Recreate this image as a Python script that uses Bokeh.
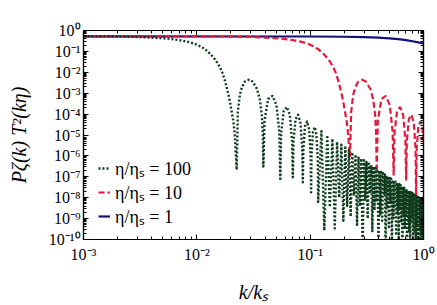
import numpy as np
from bokeh.plotting import figure
from bokeh.models import (LogAxis, FixedTicker, CustomJSTickFormatter, Legend,
                          LegendItem, Range1d)
from bokeh.embed import file_html
from bokeh.resources import INLINE

# ---------------- data (y stored as log10) ----------------
# eta/eta_s = 1
blue_k = [0.001, 0.1, 0.2, 0.3, 0.4, 0.5, 0.6, 0.7, 0.8, 0.9, 1.0]
blue_logy = [-0.28, -0.287, -0.298, -0.315, -0.34, -0.373, -0.411, -0.46, -0.516, -0.57, -0.62]

# eta/eta_s = 10
red_k = [0.001, 0.01, 0.02, 0.03, 0.04, 0.05, 0.06, 0.07, 0.082, 0.095, 0.108, 0.12,
         0.132, 0.142, 0.152, 0.16, 0.168, 0.177, 0.185, 0.191, 0.197, 0.204, 0.21, 0.216,
         0.2247,
         0.230, 0.240, 0.250, 0.265, 0.288, 0.310, 0.340, 0.360, 0.375, 0.3825,
         0.3863,
         0.3957, 0.4255, 0.4648, 0.5041, 0.5339,
         0.5452,
         0.5546, 0.5845, 0.6238, 0.6630, 0.6929,
         0.7033,
         0.7127, 0.7426, 0.7819, 0.8211, 0.8510,
         0.8610,
         0.8705, 0.9003, 0.9396, 0.9789, 1.0]
red_logy = [-0.28, -0.28, -0.29, -0.31, -0.34, -0.37, -0.41, -0.46, -0.53, -0.63, -0.76, -0.93,
            -1.13, -1.33, -1.55, -1.76, -2.02, -2.40, -2.80, -3.12, -3.48, -3.95, -4.35, -4.95,
            -6.05,
            -3.89, -3.06, -2.72, -2.45, -2.36, -2.44, -2.80, -3.31, -4.08, -5.08,
            -6.78,
            -4.31, -3.28, -3.13, -3.57, -4.83,
            -6.94,
            -4.91, -3.85, -3.66, -4.07, -5.30,
            -7.18,
            -5.32, -4.24, -4.03, -4.42, -5.63,
            -8.13,
            -5.67, -4.58, -4.35, -4.72, -5.36]

# eta/eta_s = 100 : first lobes
green_head_k = [0.001, 0.002, 0.003, 0.004, 0.005, 0.006, 0.007, 0.0082, 0.0095, 0.0108,
                0.012, 0.0132, 0.0142, 0.0152, 0.016, 0.0168, 0.0177, 0.0185, 0.0191,
                0.0197, 0.0204, 0.021, 0.0216,
                0.02247,
                0.0230, 0.0240, 0.0250, 0.0265, 0.0288, 0.0310, 0.0340, 0.0360, 0.0375, 0.03825,
                0.03863,
                0.03957, 0.04255, 0.04648, 0.05041, 0.05339,
                0.05452,
                0.05546, 0.05845, 0.06238, 0.06630, 0.06929,
                0.07033,
                0.07127, 0.07426, 0.07819, 0.08211, 0.08510,
                0.08610,
                0.08705, 0.09003, 0.09396, 0.09789, 0.10087,
                0.10186,
                0.1028, 0.1058, 0.1097, 0.1136, 0.1167,
                0.11760]
green_head_logy = [-0.28, -0.29, -0.31, -0.34, -0.37, -0.41, -0.46, -0.53, -0.63, -0.76,
                   -0.93, -1.13, -1.33, -1.55, -1.76, -2.02, -2.40, -2.80, -3.12,
                   -3.48, -3.95, -4.35, -4.95,
                   -6.67,
                   -3.89, -3.06, -2.72, -2.45, -2.36, -2.44, -2.80, -3.31, -4.08, -5.08,
                   -6.51,
                   -4.31, -3.28, -3.13, -3.57, -4.83,
                   -7.10,
                   -4.91, -3.85, -3.66, -4.07, -5.30,
                   -7.02,
                   -5.32, -4.24, -4.03, -4.42, -5.63,
                   -7.26,
                   -5.67, -4.58, -4.35, -4.72, -5.93,
                   -7.74,
                   -5.97, -4.86, -4.62, -4.98, -6.18,
                   -8.20]
# eta/eta_s = 100 : dense oscillations (lobe tops and dips)
green_peak_k = [0.1257, 0.1414, 0.1571, 0.1728, 0.1885, 0.2042, 0.2199, 0.2356,
                0.2513, 0.2670, 0.2827, 0.2985, 0.3142, 0.3299, 0.3456, 0.3613,
                0.3770, 0.3927, 0.4084, 0.4241, 0.4398, 0.4555, 0.4712, 0.4869,
                0.5027, 0.5184, 0.5341, 0.5498, 0.5655, 0.5812, 0.5969, 0.6126,
                0.6283, 0.6440, 0.6597, 0.6754, 0.6912, 0.7069, 0.7226, 0.7383,
                0.7540, 0.7697, 0.7854, 0.8011, 0.8168, 0.8325, 0.8482, 0.8639,
                0.8796, 0.8954, 0.9111, 0.9268, 0.9425, 0.9582, 0.9739, 0.9896]
green_peak_logy = [-4.82, -5.01, -5.18, -5.33, -5.47, -5.60, -5.72, -5.83,
                   -5.93, -6.03, -6.12, -6.21, -6.29, -6.37, -6.44, -6.51,
                   -6.58, -6.65, -6.71, -6.77, -6.83, -6.89, -6.94, -6.99,
                   -7.05, -7.09, -7.14, -7.19, -7.23, -7.28, -7.32, -7.36,
                   -7.40, -7.44, -7.48, -7.52, -7.56, -7.59, -7.63, -7.66,
                   -7.70, -7.73, -7.76, -7.79, -7.83, -7.86, -7.89, -7.92,
                   -7.94, -7.97, -8.00, -8.03, -8.06, -8.08, -8.11, -8.13]
green_dip_k = [0.1333, 0.1491, 0.1648, 0.1805, 0.1962, 0.2119, 0.2277, 0.2434,
               0.2591, 0.2748, 0.2905, 0.3062, 0.3219, 0.3377, 0.3534, 0.3691,
               0.3848, 0.4006, 0.4163, 0.4320, 0.4477, 0.4634, 0.4791, 0.4948,
               0.5105, 0.5262, 0.5419, 0.5576, 0.5733, 0.5891, 0.6048, 0.6205,
               0.6362, 0.6519, 0.6676, 0.6833, 0.6990, 0.7147, 0.7304, 0.7461,
               0.7618, 0.7775, 0.7933, 0.8090, 0.8247, 0.8404, 0.8561, 0.8718,
               0.8875, 0.9032, 0.9189, 0.9346, 0.9503, 0.9660, 0.9817, 0.9975]
green_dip_logy = [-9.57, -8.45, -9.47, -8.00, -9.10, -8.40, -8.90, -7.90,
                  -9.30, -8.40, -10.50, -8.10, -9.00, -7.80, -9.60, -8.60,
                  -8.20, -10.40, -8.80, -9.10, -7.90, -10.60, -8.50, -9.40,
                  -8.30, -10.50, -9.00, -8.40, -9.80, -8.70, -10.30, -8.60,
                  -9.20, -10.50, -8.80, -9.50, -8.90, -10.40, -9.10, -9.60,
                  -10.50, -9.20, -8.90, -10.30, -9.40, -9.70, -10.50, -9.30,
                  -10.20, -9.60, -10.40, -9.50, -9.80, -10.50, -9.70, -10.30]
green_tail_k = [1.0]
green_tail_logy = [-8.79]

x_tick_values = [1e-3, 1e-2, 1e-1, 1e0]
y_tick_values = [1e-10, 1e-9, 1e-8, 1e-7, 1e-6, 1e-5, 1e-4, 1e-3, 1e-2, 1e-1, 1e0]
legend_labels = ["η/ηₛ = 100", "η/ηₛ = 10", "η/ηₛ = 1"]

# ---------------- assemble series ----------------
green_k = list(green_head_k)
green_logy = list(green_head_logy)
for pk, py, dk, dy in zip(green_peak_k, green_peak_logy, green_dip_k, green_dip_logy):
    green_k += [pk, dk]
    green_logy += [py, dy]
green_k += green_tail_k
green_logy += green_tail_logy

def tenpow(a):
    return list(np.power(10.0, np.array(a, dtype=float)))

FONT = "Liberation Serif"
GREEN = "#0e3b1c"
RED = "#e41a3c"
BLUE = "#10107a"

p = figure(x_axis_type="log", y_axis_type="log",
           x_range=Range1d(1e-3, 1.0), y_range=Range1d(1e-10, 1.0),
           width=437, height=305,
           min_border_left=83, min_border_right=14, min_border_top=30, min_border_bottom=66,
           output_backend="svg", toolbar_location=None,
           background_fill_color="white", border_fill_color="white")
p.grid.visible = False
p.outline_line_color = "black"
p.outline_line_width = 1.2

bottom = p.below[0]
left = p.left[0]

b = p.line(blue_k, tenpow(blue_logy), line_color=BLUE, line_width=2.2)
r = p.line(red_k, tenpow(red_logy), line_color=RED, line_width=2.2, line_dash="6 3")
g = p.line(green_k, tenpow(green_logy), line_color=GREEN, line_width=2.4,
           line_dash="2 2", line_join="round")

sup_code = """
const sup = {"-": "\\u207b", "0": "\\u2070", "1": "\\u00b9", "2": "\\u00b2", "3": "\\u00b3",
             "4": "\\u2074", "5": "\\u2075", "6": "\\u2076", "7": "\\u2077", "8": "\\u2078", "9": "\\u2079"};
const e = Math.round(Math.log10(tick));
return "10" + String(e).split("").map(c => sup[c]).join("");
"""
fmt = CustomJSTickFormatter(code=sup_code)
empty = CustomJSTickFormatter(code="return '';")

x_minor = [m * 10.0 ** e for e in range(-3, 0) for m in range(2, 10)]
y_minor = [m * 10.0 ** e for e in range(-10, 0) for m in range(2, 10)]
xt = FixedTicker(ticks=x_tick_values, minor_ticks=x_minor)
yt = FixedTicker(ticks=y_tick_values, minor_ticks=y_minor)

bottom.ticker = xt
left.ticker = yt
bottom.formatter = fmt
left.formatter = fmt

top = LogAxis(ticker=xt, formatter=empty)
right = LogAxis(ticker=yt, formatter=empty)
p.add_layout(top, "above")
p.add_layout(right, "right")

for ax in [bottom, left, top, right]:
    ax.major_tick_in = 5
    ax.major_tick_out = 0
    ax.minor_tick_in = 3
    ax.minor_tick_out = 0
    ax.axis_line_color = "black"
    ax.axis_line_width = 1.2
    ax.major_tick_line_color = "black"
    ax.minor_tick_line_color = "black"
    ax.major_label_text_font = FONT
    ax.major_label_text_font_size = "16px"
    ax.major_label_text_color = "black"
top.major_label_standoff = 0
right.major_label_standoff = 0

bottom.major_label_standoff = 6
left.major_label_standoff = 3
bottom.axis_label = "k/kₛ"
left.axis_label = "Pζ(k) T²(kη)"
for ax in [bottom, left]:
    ax.axis_label_text_font = FONT
    ax.axis_label_text_font_style = "italic"
    ax.axis_label_text_font_size = "20px"
    ax.axis_label_text_color = "black"
bottom.axis_label_standoff = 15
left.axis_label_standoff = 16

legend = Legend(items=[LegendItem(label=legend_labels[0], renderers=[g]),
                       LegendItem(label=legend_labels[1], renderers=[r]),
                       LegendItem(label=legend_labels[2], renderers=[b])],
                location=(15, 11))
legend.padding = 0
legend.margin = 0
legend.spacing = -10
legend.glyph_width = 12
legend.glyph_height = 20
legend.label_height = 20
legend.label_standoff = 5
legend.label_text_font = FONT
legend.label_text_font_size = "18px"
legend.label_text_color = "black"
legend.background_fill_alpha = 0
legend.border_line_alpha = 0
p.add_layout(legend)

open("out.html", "w").write(file_html(p, INLINE))
